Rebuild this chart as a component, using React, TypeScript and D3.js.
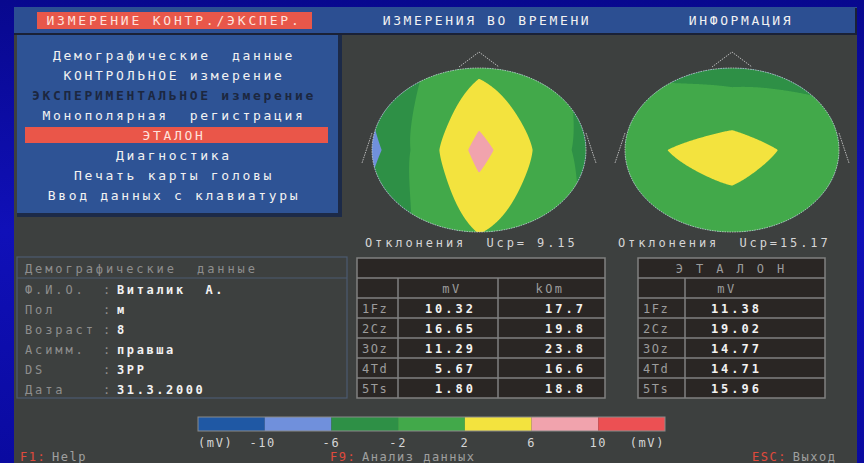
import React from 'react'
import * as d3 from 'd3'

// top menu and left menu
const topMenu = ['ИЗМЕРЕНИЕ КОНТР./ЭКСПЕР.', 'ИЗМЕРЕНИЯ ВО ВРЕМЕНИ', 'ИНФОРМАЦИЯ']
const menuItems = [
  'Демографические  данные',
  'КОНТРОЛЬНОЕ измерение',
  'ЭКСПЕРИМЕНТАЛЬНОЕ измерение',
  'Монополярная  регистрация',
  'ЭТАЛОН',
  'Диагностика',
  'Печать карты головы',
  'Ввод данных с клавиатуры',
]
const disabledItem = 2
const selectedItem = 4

// patient
const demoTitle = 'Демографические  данные'
const demoLabels = ['Ф.И.О.', 'Пол', 'Возраст', 'Асимм.', 'DS', 'Дата']
const demoValues = ['Виталик  А.', 'м', '8', 'правша', '3PP', '31.3.2000']

// measurements: Fz, Cz, Oz, Td, Ts
const leads = ['1Fz', '2Cz', '3Oz', '4Td', '5Ts']
const measuredMv = [10.32, 16.65, 11.29, 5.67, 1.8]
const resistanceKOm = [17.7, 19.8, 23.8, 16.6, 18.8]
const etalonMv = [11.38, 19.02, 14.77, 14.71, 15.96]

// colour legend (mV)
const legendStops = [-10, -6, -2, 2, 6, 10]
const legendColors = ['#1f58a4', '#7090dc', '#2e9046', '#42a94a', '#f3e33e', '#f1a3ad', '#ec5053']

const footerKeys = ['F1:', 'F9:', 'ESC:']
const footerLabels = ['Help', 'Анализ данных', 'Выход']

const W = 864
const H = 463
const FONT = '"DejaVu Sans Mono", monospace'
const PANEL = '#3d403f'
const GRAYTXT = '#9c9c9c'

const RX = 107
const RY = 82

// deviation field: Cz in the centre, Fz top, Td right, Oz bottom, Ts left.
// linear between the axes near the centre, radial (polar) toward the rim
function field(dev: number[], u: number, v: number) {
  const cz = dev[1]
  const r = Math.hypot(u, v)
  let th = Math.atan2(u, -v)
  if (th < 0) th += 2 * Math.PI
  const rim = [dev[0], dev[3], dev[2], dev[4]]
  const seg = th / (Math.PI / 2)
  const i = Math.floor(seg) % 4
  const t = seg - Math.floor(seg)
  const e = rim[i] * (1 - t) + rim[(i + 1) % 4] * t
  const polar = cz + (e - cz) * r
  const hor = u >= 0 ? dev[3] : dev[4]
  const ver = v <= 0 ? dev[0] : dev[2]
  const lin = cz + (hor - cz) * Math.abs(u) + (ver - cz) * Math.abs(v)
  const w = Math.min(1, r)
  return w * polar + (1 - w) * lin
}

function HeadMap({ id, cx, cy, values }: { id: string; cx: number; cy: number; values: number[] }) {
  const mean = d3.mean(values) as number
  const dev = values.map((d) => d - mean)
  const nx = RX * 2
  const ny = RY * 2
  const grid: number[] = new Array(nx * ny)
  for (let j = 0; j < ny; j++) {
    for (let i = 0; i < nx; i++) {
      const u = (i + 0.5 - RX) / RX
      const v = (j + 0.5 - RY) / RY
      grid[j * nx + i] = field(dev, u, v)
    }
  }
  const thresholds = [-1e6, ...legendStops]
  const bands = d3.contours().size([nx, ny]).thresholds(thresholds)(grid)
  const path = d3.geoPath()
  const line = d3.line()
  const nose: [number, number][] = [[-20, -83], [0, -98], [20, -83]]
  const earL: [number, number][] = [[-107, -17], [-117, 13]]
  const earR: [number, number][] = [[107, -17], [117, 13]]
  return (
    <g>
      <defs>
        <clipPath id={id}>
          <ellipse cx={cx} cy={cy} rx={RX} ry={RY} />
        </clipPath>
      </defs>
      <g clipPath={`url(#${id})`}>
        <g transform={`translate(${cx - RX},${cy - RY})`}>
          {bands.map((b, k) => (
            <path key={k} d={path(b as any) || ''} fill={legendColors[k]} />
          ))}
        </g>
      </g>
      <g transform={`translate(${cx},${cy})`} fill="none" stroke="#d4d4d4" strokeWidth={0.8} strokeDasharray="1.5 1">
        <ellipse cx={0} cy={0} rx={RX} ry={RY} />
        <path d={line(nose) || ''} />
        <path d={line(earL) || ''} />
        <path d={line(earR) || ''} />
      </g>
    </g>
  )
}

function Txt(props: any) {
  const { size = 12, ls = 2.9, children, ...rest } = props
  return (
    <text fontFamily={FONT} fontSize={size} style={{ letterSpacing: ls, whiteSpace: 'pre' }} {...rest}>
      {children}
    </text>
  )
}

function DataTable({ x0, cols, title, heads, headX, rows }: any) {
  const y = d3.scaleLinear().domain([0, 7]).range([258, 398])
  const x1 = cols[cols.length - 1]
  return (
    <g>
      <rect x={x0} y={y(0)} width={x1 - x0} height={y(7) - y(0)} fill="#2a2624" />
      {d3.range(1, 7).map((k) => (
        <line key={k} x1={x0} x2={x1} y1={y(k)} y2={y(k)} stroke="#808080" strokeWidth={1.5} />
      ))}
      {cols.slice(0, -1).map((c: number, k: number) => (
        <line key={k} x1={c} x2={c} y1={y(1)} y2={y(7)} stroke="#808080" strokeWidth={1.5} />
      ))}
      <rect x={x0} y={y(0)} width={x1 - x0} height={y(7) - y(0)} fill="none" stroke="#808080" strokeWidth={1.5} />
      {title && (
        <Txt x={(x0 + x1) / 2} y={y(0.5) + 4.5} textAnchor="middle" fill={GRAYTXT}>
          {title}
        </Txt>
      )}
      {heads.map((h: string, k: number) => (
        <Txt key={k} x={headX[k]} y={y(1.5) + 4.5} textAnchor="middle" fill={GRAYTXT} ls={2.5}>
          {h}
        </Txt>
      ))}
      {leads.map((l, i) => (
        <g key={l}>
          <Txt x={x0 + 5} y={y(2.5 + i) + 4.5} fill={GRAYTXT} ls={1.5}>
            {l}
          </Txt>
          {rows.map((col: any, k: number) => (
            <Txt key={k} x={col.x} y={y(2.5 + i) + 4.5} textAnchor="end" fill="#f2f2f2" fontWeight="bold" ls={3}>
              {col.fmt(col.values[i])}
            </Txt>
          ))}
        </g>
      ))}
    </g>
  )
}

export default function App() {
  const ucpFmt = d3.format('5.2f')
  const ucpLeft = ucpFmt(d3.mean(measuredMv) as number)
  const ucpRight = ucpFmt(d3.mean(etalonMv) as number)
  const menuY = d3.scaleLinear().domain([0, 1]).range([55, 75])
  const legendX = d3.scaleBand<number>().domain(d3.range(legendColors.length)).range([198, 665])
  const demoY = d3.scaleLinear().domain([0, 1]).range([289, 309])
  const f2 = (d: number) => d.toFixed(2)
  const f1 = (d: number) => d.toFixed(1)

  return (
    <div style={{ position: 'fixed', left: 0, top: 0, width: W, height: H }}>
      <svg width={W} height={H} style={{ display: 'block' }}>
        <defs>
          <linearGradient id="bg" x1="0" y1="0" x2="0" y2="1">
            <stop offset="0" stopColor="#08088e" />
            <stop offset="0.5" stopColor="#1010b8" />
            <stop offset="1" stopColor="#0a0aa0" />
          </linearGradient>
        </defs>
        <rect width={W} height={H} fill="url(#bg)" />
        <rect x={14} y={7} width={843} height={H} fill={PANEL} />

        {/* top menu bar */}
        <rect x={14} y={7} width={843} height={27} fill="#2c4f92" />
        <line x1={14} x2={857} y1={34} y2={34} stroke="#1a2136" strokeWidth={2} />
        <line x1={856} x2={856} y1={8} y2={34} stroke="#1a2136" strokeWidth={2} />
        <rect x={37} y={12} width={275} height={17} fill="#e8574a" />
        <Txt x={174} y={25} textAnchor="middle" fill="#ffe2dc" size={13} ls={2.8}>
          {topMenu[0]}
        </Txt>
        <Txt x={487} y={25} textAnchor="middle" fill="#f2f2f2" size={13} ls={2.6}>
          {topMenu[1]}
        </Txt>
        <Txt x={741} y={25} textAnchor="middle" fill="#f2f2f2" size={13} ls={2.6}>
          {topMenu[2]}
        </Txt>

        {/* left menu */}
        <rect x={17} y={35} width={325} height={182} fill="#1c2a48" />
        <rect x={17} y={35} width={321} height={178} fill="#2e5395" />
        <rect x={25} y={127} width={303} height={16} fill="#ea5649" />
        {menuItems.map((m, i) => (
          <Txt
            key={m}
            x={174}
            y={menuY(i) + 4.5}
            textAnchor="middle"
            size={13}
            ls={2.7}
            fill={i === disabledItem ? '#1c2740' : i === selectedItem ? '#ffe2dc' : '#f2f2f2'}
            fontWeight={i === disabledItem ? 'bold' : 'normal'}
          >
            {m}
          </Txt>
        ))}

        {/* head maps */}
        <HeadMap id="mapL" cx={479} cy={150} values={measuredMv} />
        <HeadMap id="mapR" cx={732} cy={150} values={etalonMv} />
        <Txt x={365} y={247} fill="#d6d6d6">
          {`Отклонения  Ucp=${ucpLeft}`}
        </Txt>
        <Txt x={618} y={247} fill="#d6d6d6">
          {`Отклонения  Ucp=${ucpRight}`}
        </Txt>

        {/* demographics */}
        <rect x={17} y={257} width={330} height={141} fill="none" stroke="#4c5b70" strokeWidth={1.2} />
        <line x1={17} x2={347} y1={278} y2={278} stroke="#4c5b70" strokeWidth={1.2} />
        <Txt x={25} y={272.5} fill="#8e8e8e">
          {demoTitle}
        </Txt>
        {demoLabels.map((l, i) => (
          <g key={l}>
            <Txt x={25} y={demoY(i) + 4.5} fill="#8e8e8e">
              {l}
            </Txt>
            <Txt x={103} y={demoY(i) + 4.5} fill="#8e8e8e">
              :
            </Txt>
            <Txt x={117} y={demoY(i) + 4.5} fill="#f2f2f2" fontWeight="bold" ls={2.6}>
              {demoValues[i]}
            </Txt>
          </g>
        ))}

        {/* tables */}
        <DataTable
          x0={357}
          cols={[398, 498, 605]}
          title=""
          heads={['mV', 'kOm']}
          headX={[452, 550]}
          rows={[
            { x: 476, values: measuredMv, fmt: f2 },
            { x: 586, values: resistanceKOm, fmt: f1 },
          ]}
        />
        <DataTable
          x0={638}
          cols={[685, 825]}
          title="Э Т А Л О Н"
          heads={['mV']}
          headX={[727]}
          rows={[{ x: 762, values: etalonMv, fmt: f2 }]}
        />

        {/* legend */}
        {legendColors.map((c, i) => (
          <rect key={i} x={legendX(i)} y={417} width={legendX.bandwidth()} height={14} fill={c} />
        ))}
        <rect x={198} y={417} width={467} height={14} fill="none" stroke="#8a8a8a" strokeWidth={1} />
        <Txt x={198} y={447} fill="#d6d6d6" size={12} ls={1.6}>
          (mV)
        </Txt>
        {legendStops.map((s, i) => (
          <Txt key={s} x={(legendX(i + 1) as number) - (s === -10 ? 2 : 0)} y={447} textAnchor="middle" fill="#d6d6d6" size={12} ls={1.6}>
            {s}
          </Txt>
        ))}
        <Txt x={665} y={447} textAnchor="end" fill="#d6d6d6" size={12} ls={1.6}>
          (mV)
        </Txt>

        {/* footer */}
        {footerKeys.map((k, i) => {
          const x = [20, 330, 752][i]
          return (
            <g key={k}>
              <Txt x={x} y={461} fill="#e04a3c" size={12} ls={1.5}>
                {k}
              </Txt>
              <Txt x={x + k.length * 8.7 + 6} y={461} fill="#a0a0a0" size={12} ls={1.5}>
                {footerLabels[i]}
              </Txt>
            </g>
          )
        })}
      </svg>
    </div>
  )
}
